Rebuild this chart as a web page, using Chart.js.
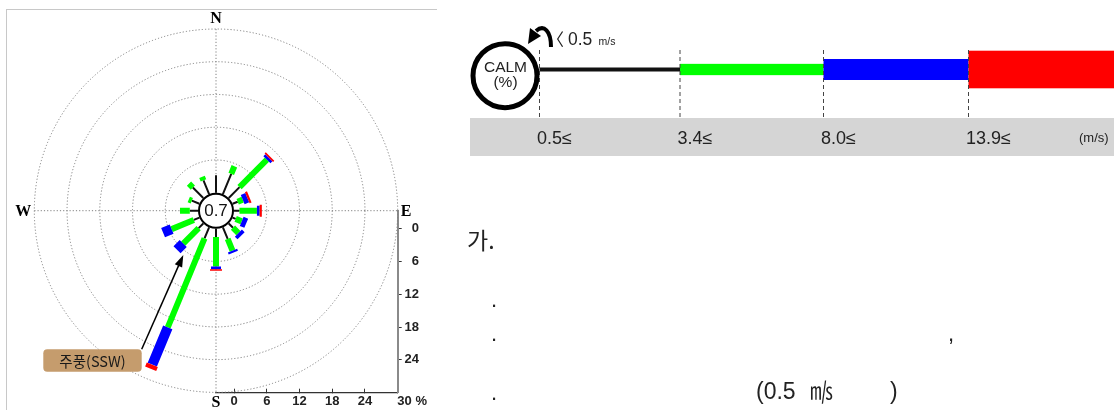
<!DOCTYPE html>
<html>
<head>
<meta charset="utf-8">
<script src="https://cdn.jsdelivr.net/npm/chart.js@4.4.1/dist/chart.umd.min.js"></script>
<style>
  body { margin: 0; background: #fff; }
  #page { position: relative; width: 1114px; height: 410px; overflow: hidden; }
  #frame { position: absolute; left: 6px; top: 9px; width: 430px; height: 410px;
           border-top: 1px solid #c8c8c8; border-left: 1px solid #c8c8c8; }
  #rose { position: absolute; left: 0; top: 0; }
  #side { position: absolute; left: 0; top: 0; }
  #side text { font-family: "Liberation Sans", Arial, sans-serif; fill: #222; }
  #side .kr { font-family: "Noto Sans CJK KR", sans-serif; }
</style>
</head>
<body>
<div id="page">
  <div id="frame"></div>
  <canvas id="rose" width="440" height="410"></canvas>
  <svg id="side" width="1114" height="410" xmlns="http://www.w3.org/2000/svg">
    <rect x="470" y="118" width="644" height="38" fill="#d5d5d5"/>
    <g id="legend"></g>
    <circle cx="505" cy="75.7" r="32" fill="#fff" stroke="#000" stroke-width="5"/>
    <text x="505.5" y="72" text-anchor="middle" font-size="15.5">CALM</text>
    <text x="505.5" y="87" text-anchor="middle" font-size="15.5">(%)</text>
    <path d="M551 47 C551 31 544 24 536 31" fill="none" stroke="#000" stroke-width="4"/>
    <polygon points="528,44 530,28 541,36" fill="#000"/>
    <text class="kr" x="547" y="46" font-size="17">〈</text>
    <text x="568" y="45" font-size="17.5">0.5</text>
    <text x="598.5" y="45" font-size="10.5">m/s</text>
    <text x="1079" y="141.5" font-size="13">(m/s)</text>

    <text class="kr" x="467" y="248.5" font-size="23">가.</text>
    <text x="491" y="306.5" font-size="22">.</text>
    <text x="491" y="341" font-size="22">.</text>
    <text x="948" y="341" font-size="22">,</text>
    <text x="491" y="400" font-size="22">.</text>
    <text x="756" y="398.5" font-size="23">(0.5</text>
    <text class="kr" x="810" y="398.5" font-size="23">㎧</text>
    <text x="890" y="398.5" font-size="23">)</text>
  </svg>
</div>
<script>
// wind directions, clockwise from north
const DIRECTIONS = ['N', 'NNE', 'NE', 'ENE', 'E', 'ESE', 'SE', 'SSE',
                    'S', 'SSW', 'SW', 'WSW', 'W', 'WNW', 'NW', 'NNW'];
const CALM = 0.7; // % below 0.5 m/s

// frequency (%) per speed class
const FREQ_0_5 = [3.2, 4.0, 2.8, 1.0, 1.0, 0.6, 1.1, 2.3, 1.5, 2.2, 1.2, 1.1, 1.5, 1.5, 2.7, 2.7];   // 0.5 - 3.4 m/s
const FREQ_3_4 = [0, 1.5, 7.1, 1.0, 3.2, 1.2, 1.4, 2.3, 5.4, 17.6, 4.0, 4.4, 1.8, 0.6, 1.0, 0.7];    // 3.4 - 8.0 m/s
const FREQ_8_0 = [0, 0, 0.5, 0.9, 0.5, 0.9, 0.7, 0.4, 0.5, 7.4, 1.6, 1.7, 0, 0, 0, 0];              // 8.0 - 13.9 m/s
const FREQ_13_9 = [0, 0, 0.3, 0.4, 0.4, 0, 0, 0, 0.3, 0.8, 0, 0, 0, 0, 0, 0];                       // 13.9 m/s and up

const SPEED_LABELS = ['0.5≤', '3.4≤', '8.0≤', '13.9≤'];
const RINGS = [6, 12, 18, 24, 30];
const X_TICKS = [0, 6, 12, 18, 24, 30];
const Y_TICKS = [0, 6, 12, 18, 24];

const CALM_R = 3.3; // calm circle radius in % units, the axes' 0 sits on its edge
const CLASS_STYLE = [
    { color: '#111111', width: 2, band: 4 },
    { color: '#00ff00', width: 6, band: 11.3 },
    { color: '#0000ff', width: 10, band: 21 },
    { color: '#ff0000', width: 12, band: 37.6 }
];
const SERIES = [FREQ_0_5, FREQ_3_4, FREQ_8_0, FREQ_13_9];

function polar(r, i) {
    const a = i * Math.PI / 8;
    return { x: -CALM_R + r * Math.sin(a), y: -CALM_R - r * Math.cos(a) };
}

// one line piece per direction for a speed class, split by gaps
function spokes(k) {
    const pts = [];
    DIRECTIONS.forEach((d, i) => {
        let r0 = CALM_R;
        for (let j = 0; j < k; j++) r0 += SERIES[j][i];
        const v = SERIES[k][i];
        if (!v) return;
        pts.push(polar(r0, i), polar(r0 + v, i), { x: null, y: null });
    });
    return pts;
}

const roseFrame = {
    id: 'roseFrame',
    beforeDatasetsDraw(chart) {
        const { ctx, scales: { x, y } } = chart;
        const cx = x.getPixelForValue(-CALM_R), cy = y.getPixelForValue(-CALM_R);
        const k = x.getPixelForValue(1) - x.getPixelForValue(0);
        const R = (CALM_R + RINGS[RINGS.length - 1]) * k;
        ctx.save();
        ctx.strokeStyle = '#808080';
        ctx.lineWidth = 1;
        ctx.setLineDash([1.2, 2]);
        RINGS.forEach(v => {
            ctx.beginPath();
            ctx.arc(cx, cy, (CALM_R + v) * k, 0, Math.PI * 2);
            ctx.stroke();
        });
        ctx.beginPath();
        ctx.moveTo(cx, cy - R); ctx.lineTo(cx, cy + R);
        ctx.moveTo(cx - R, cy); ctx.lineTo(cx + R, cy);
        ctx.stroke();
        ctx.restore();
    },
    afterDatasetsDraw(chart) {
        const { ctx, scales: { x, y } } = chart;
        const cx = x.getPixelForValue(-CALM_R), cy = y.getPixelForValue(-CALM_R);
        const k = x.getPixelForValue(1) - x.getPixelForValue(0);
        const R = (CALM_R + RINGS[RINGS.length - 1]) * k;
        ctx.save();
        // calm circle
        ctx.beginPath();
        ctx.arc(cx, cy, CALM_R * k - 1, 0, Math.PI * 2);
        ctx.fillStyle = '#fff';
        ctx.fill();
        ctx.lineWidth = 2;
        ctx.strokeStyle = '#000';
        ctx.stroke();
        ctx.fillStyle = '#111';
        ctx.textAlign = 'center';
        ctx.textBaseline = 'middle';
        ctx.font = '17px "Liberation Sans", Arial, sans-serif';
        ctx.fillText(CALM.toFixed(1), cx, cy + 1);

        // compass letters
        ctx.font = 'bold 16px "Liberation Serif", serif';
        ctx.fillStyle = '#000';
        ctx.fillText('N', cx, cy - R - 10);
        ctx.fillText('S', cx, cy + R + 10);
        ctx.fillText('W', cx - R - 11, cy + 1);
        ctx.fillText('E', cx + R + 8.5, cy + 1);

        // main wind callout
        const bx = cx - 172.7, by = cy + 138.6, bw = 98.4, bh = 22.4, rr = 4;
        ctx.beginPath();
        ctx.moveTo(bx + rr, by);
        ctx.arcTo(bx + bw, by, bx + bw, by + bh, rr);
        ctx.arcTo(bx + bw, by + bh, bx, by + bh, rr);
        ctx.arcTo(bx, by + bh, bx, by, rr);
        ctx.arcTo(bx, by, bx + bw, by, rr);
        ctx.closePath();
        ctx.fillStyle = '#c59c6d';
        ctx.fill();
        ctx.fillStyle = '#1a1a1a';
        ctx.font = '14.5px "Noto Sans CJK KR", sans-serif';
        ctx.fillText('주풍(SSW)', bx + bw / 2, by + bh / 2 + 0.5);

        const tx = cx - 74.3, ty = cy + 138.6, hx = cx - 32.7, hy = cy + 44.3;
        const ang = Math.atan2(hy - ty, hx - tx);
        ctx.beginPath();
        ctx.moveTo(tx, ty);
        ctx.lineTo(hx - 10 * Math.cos(ang), hy - 10 * Math.sin(ang));
        ctx.lineWidth = 1.5;
        ctx.stroke();
        ctx.beginPath();
        ctx.moveTo(hx, hy);
        ctx.lineTo(hx - 12 * Math.cos(ang) + 4 * Math.sin(ang), hy - 12 * Math.sin(ang) - 4 * Math.cos(ang));
        ctx.lineTo(hx - 12 * Math.cos(ang) - 4 * Math.sin(ang), hy - 12 * Math.sin(ang) + 4 * Math.cos(ang));
        ctx.closePath();
        ctx.fillStyle = '#000';
        ctx.fill();
        ctx.restore();
    }
};

Chart.defaults.font.family = '"Liberation Sans", Arial, sans-serif';

const tickFont = { size: 13, weight: 'bold' };

new Chart(document.getElementById('rose'), {
    type: 'scatter',
    data: {
        datasets: SERIES.map((vals, k) => ({
            label: SPEED_LABELS[k],
            data: spokes(k),
            showLine: true,
            borderColor: CLASS_STYLE[k].color,
            backgroundColor: CLASS_STYLE[k].color,
            borderWidth: CLASS_STYLE[k].width,
            pointRadius: 0,
            pointHoverRadius: 0,
            clip: false,
            order: 3 - k
        }))
    },
    options: {
        responsive: false,
        animation: false,
        events: [],
        layout: { padding: { left: 216, top: 210.7, right: 21, bottom: 0 } },
        plugins: { legend: { display: false }, tooltip: { enabled: false } },
        scales: {
            x: {
                type: 'linear',
                position: 'bottom',
                min: -CALM_R,
                max: 30,
                afterBuildTicks: s => { s.ticks = X_TICKS.map(v => ({ value: v })); },
                afterFit: s => { s.height = 17.3; },
                grid: { drawOnChartArea: false, tickLength: -4, tickColor: '#333', tickWidth: 1 },
                border: { color: '#333', width: 1.3 },
                ticks: {
                    padding: 5,
                    color: '#222',
                    font: tickFont,
                    maxRotation: 0,
                    autoSkip: false,
                    callback: v => v === 30 ? '        30 %' : String(v)
                }
            },
            y: {
                type: 'linear',
                position: 'right',
                reverse: true,
                min: -CALM_R,
                max: 30,
                afterBuildTicks: s => { s.ticks = Y_TICKS.map(v => ({ value: v })); },
                afterFit: s => { s.width = 21.3; },
                grid: { drawOnChartArea: false, tickLength: 4, tickColor: '#333', tickWidth: 1 },
                border: { color: '#8a8a8a', width: 2 },
                ticks: {
                    padding: 4,
                    crossAlign: 'far',
                    color: '#222',
                    font: tickFont,
                    autoSkip: false,
                    callback: v => String(v)
                }
            }
        }
    },
    plugins: [roseFrame]
});

// speed class legend on the right
const LEG_X = [539.5, 680, 823.5, 968.5, 1114];
const LEG_Y = 69.5;
const NS = 'http://www.w3.org/2000/svg';
const leg = document.getElementById('legend');
function add(tag, attrs, text) {
    const e = document.createElementNS(NS, tag);
    Object.entries(attrs).forEach(([a, v]) => e.setAttribute(a, v));
    if (text) e.textContent = text;
    leg.appendChild(e);
    return e;
}
SPEED_LABELS.forEach((lab, k) => {
    const st = CLASS_STYLE[k];
    add('rect', { x: LEG_X[k], y: LEG_Y - st.band / 2, width: LEG_X[k + 1] - LEG_X[k], height: st.band, fill: st.color });
    add('line', { x1: LEG_X[k], y1: 50, x2: LEG_X[k], y2: 118, stroke: '#444', 'stroke-width': 1, 'stroke-dasharray': '4 3' });
    add('text', { x: LEG_X[k] - 2.5, y: 143.5, 'font-size': 18, fill: '#333' }, lab);
});
</script>
</body>
</html>
